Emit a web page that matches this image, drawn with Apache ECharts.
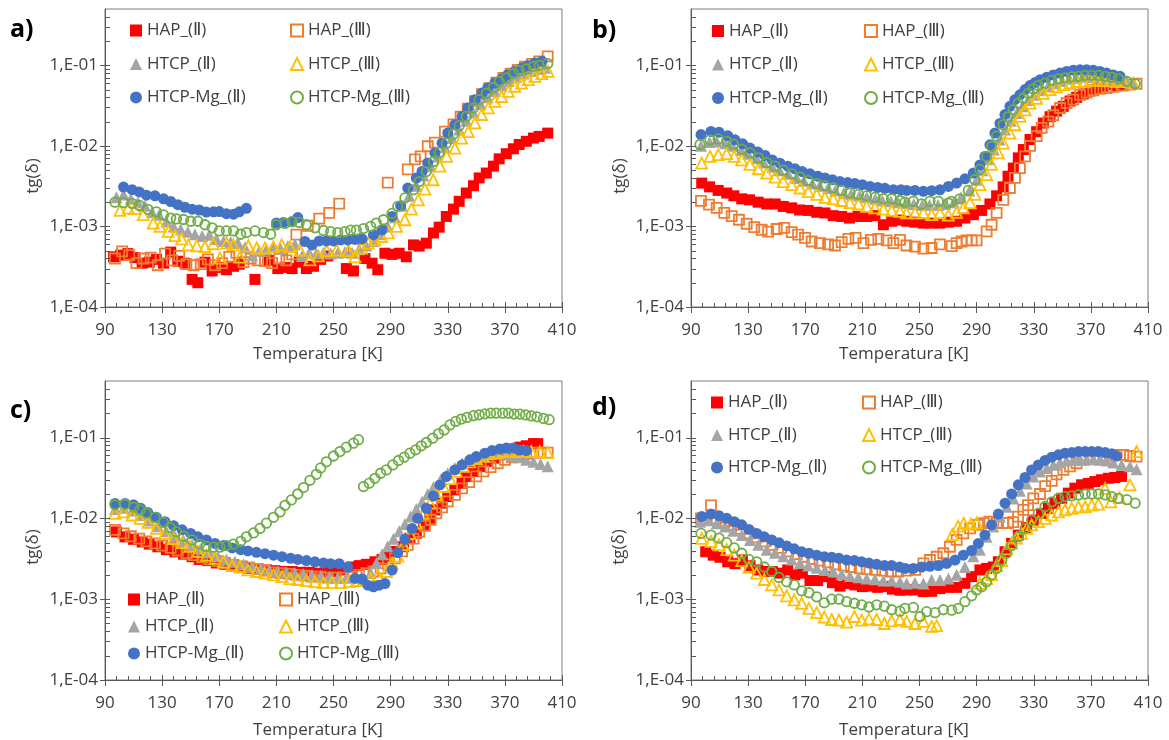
<!DOCTYPE html>
<html>
<head>
<meta charset="utf-8">
<script src="https://cdn.jsdelivr.net/npm/echarts@6/dist/echarts.min.js"></script>
<style>
  html, body { margin: 0; padding: 0; background: #fff; }
  #chart { width: 1169px; height: 740px; }
</style>
</head>
<body>
<div id="chart"></div>
<script>
// Loss tangent tg(δ) versus temperature for four sample sets, panels a) – d)
// Each series is a list of [temperature K, tg(δ)] points.

const seriesNames = ['HAP_(Ⅱ)', 'HAP_(Ⅲ)', 'HTCP_(Ⅱ)', 'HTCP_(Ⅲ)', 'HTCP-Mg_(Ⅱ)', 'HTCP-Mg_(Ⅲ)'];
const panelLabels = ['a)', 'b)', 'c)', 'd)'];
const xTickValues = [90, 130, 170, 210, 250, 290, 330, 370, 410];
const yMajorTicks = [1e-4, 1e-3, 1e-2, 1e-1];
const yMinorTicks = [2e-4, 3e-4, 4e-4, 5e-4, 6e-4, 7e-4, 8e-4, 9e-4,
                     2e-3, 3e-3, 4e-3, 5e-3, 6e-3, 7e-3, 8e-3, 9e-3,
                     2e-2, 3e-2, 4e-2, 5e-2, 6e-2, 7e-2, 8e-2, 9e-2,
                     0.2, 0.3, 0.4];

// ---------- panel a ----------
const a_HAP2 = [[96,4.2e-4],[101,4.4e-4],[106,4.6e-4],[111,4.1e-4],[116,3.5e-4],[121,3.6e-4],[126,3.9e-4],[131,3.5e-4],[136,4.8e-4],[141,3.7e-4],[146,3.5e-4],[151,2.2e-4],[155,2.0e-4],[160,3.6e-4],[165,2.8e-4],[170,3.1e-4],[175,2.9e-4],[180,3.2e-4],[184,3.4e-4],[195,2.2e-4],[205,3.8e-4],[211,3.0e-4],[216,3.1e-4],[221,3.0e-4],[226,3.6e-4],[231,3.0e-4],[236,3.2e-4],[241,3.9e-4],[246,4.3e-4],[259,3.0e-4],[264,2.8e-4],[272,4.0e-4],[277,3.5e-4],[281,2.9e-4],[286,4.65e-4],[291,4.5e-4],[296,4.65e-4],[301,4.2e-4],[306,5.9e-4],[310,5.7e-4],[315,6.2e-4],[320,8.3e-4],[324,9.8e-4],[329,1.33e-3],[334,1.64e-3],[338,2.05e-3],[343,2.6e-3],[348,3.2e-3],[352,4.0e-3],[357,4.6e-3],[362,5.6e-3],[366,6.9e-3],[371,8.0e-3],[376,9.2e-3],[380,1.04e-2],[385,1.14e-2],[390,1.25e-2],[394,1.31e-2],[400,1.44e-2]];
const a_HAP3 = [[97,4.0e-4],[102,4.9e-4],[107,4.4e-4],[112,3.5e-4],[117,4.0e-4],[122,4.1e-4],[127,3.3e-4],[132,4.6e-4],[137,3.8e-4],[142,4.3e-4],[147,3.4e-4],[152,3.3e-4],[157,3.4e-4],[162,3.9e-4],[167,3.3e-4],[172,3.5e-4],[177,4.2e-4],[182,4.7e-4],[187,3.6e-4],[192,4.0e-4],[197,3.8e-4],[202,3.7e-4],[207,3.5e-4],[212,4.0e-4],[217,3.8e-4],[221,4.5e-4],[224,7.9e-4],[232,1.02e-3],[240,1.25e-3],[247,1.47e-3],[254,1.92e-3],[264,5.4e-4],[288,3.5e-3],[302,5.1e-3],[307,6.8e-3],[311,7.4e-3],[316,9.9e-3],[321,1.1e-2],[328,1.5e-2],[334,1.85e-2],[339,2.3e-2],[344,2.9e-2],[349,3.6e-2],[354,4.4e-2],[359,5.2e-2],[364,6.1e-2],[369,7.0e-2],[374,7.9e-2],[379,8.8e-2],[384,9.6e-2],[389,0.104],[394,0.112],[400,0.129]];
const a_HTCP2 = [[98,2.3e-3],[103,2.5e-3],[108,2.2e-3],[113,2.0e-3],[118,1.8e-3],[123,1.5e-3],[128,1.4e-3],[133,1.15e-3],[138,1.0e-3],[143,9.2e-4],[148,8.6e-4],[153,8.0e-4],[158,7.6e-4],[163,7.9e-4],[168,7.0e-4],[173,6.6e-4],[178,6.4e-4],[183,6.3e-4],[188,5.5e-4],[193,4.4e-4],[198,5.0e-4],[203,5.2e-4],[208,5.6e-4],[213,5.3e-4],[218,5.7e-4],[223,6.0e-4],[228,4.3e-4],[233,4.7e-4],[238,4.6e-4],[243,4.7e-4],[248,4.6e-4],[253,4.7e-4],[258,4.8e-4],[263,4.7e-4],[268,5.2e-4],[273,5.8e-4],[278,6.6e-4],[283,8.0e-4],[288,1.0e-3],[293,1.3e-3],[298,1.8e-3],[303,2.4e-3],[308,3.2e-3],[313,4.3e-3],[318,5.6e-3],[323,7.4e-3],[328,9.6e-3],[333,1.25e-2],[338,1.6e-2],[343,2.05e-2],[348,2.6e-2],[353,3.3e-2],[358,4.0e-2],[363,4.8e-2],[368,5.6e-2],[373,6.4e-2],[378,7.2e-2],[383,7.9e-2],[388,8.5e-2],[393,9.0e-2],[398,9.3e-2]];
const a_HTCP3 = [[100.5,1.58e-3],[106.3,1.69e-3],[111,1.66e-3],[116.8,1.4e-3],[123.8,1.1e-3],[128.5,1.0e-3],[134.3,8.7e-4],[139,7.7e-4],[143.7,7.0e-4],[148.3,5.9e-4],[154.2,5.75e-4],[160,5.6e-4],[165.8,6.1e-4],[170.5,4.05e-4],[175.2,6.2e-4],[179.8,5.9e-4],[184.5,4.15e-4],[190.4,5.75e-4],[196.2,5.4e-4],[202,5.4e-4],[207.9,5.6e-4],[213.7,5.9e-4],[219.5,5.6e-4],[226.5,5.1e-4],[233.5,3.85e-4],[239.4,4.3e-4],[245.2,5.0e-4],[252.2,5.1e-4],[260.4,5.0e-4],[265,4.2e-4],[269.7,5.4e-4],[274.3,6.2e-4],[279,6.8e-4],[283.7,7.5e-4],[288.4,8.3e-4],[294.2,1.0e-3],[300,1.21e-3],[304.6,1.64e-3],[309.4,2.14e-3],[314,2.9e-3],[319.8,3.8e-3],[324.5,5.6e-3],[329.2,7.4e-3],[335,9.4e-3],[339.7,1.25e-2],[344.4,1.5e-2],[349,1.93e-2],[353.7,2.45e-2],[358.4,2.96e-2],[363,3.57e-2],[367.7,4.1e-2],[372.4,4.76e-2],[377,5.5e-2],[381.7,6.0e-2],[386.4,6.63e-2],[391,7.3e-2],[395.8,7.9e-2],[400.3,8.4e-2]];
const a_Mg2 = [[103,3.08e-3],[109,2.86e-3],[114,2.68e-3],[119,2.44e-3],[125,2.4e-3],[131,2.2e-3],[136,2.04e-3],[141,1.86e-3],[146,1.73e-3],[151,1.64e-3],[156,1.6e-3],[161,1.51e-3],[166,1.52e-3],[170,1.53e-3],[175,1.44e-3],[180,1.42e-3],[184,1.52e-3],[189,1.68e-3],[210,1.1e-3],[215,1.12e-3],[221,1.14e-3],[225,1.29e-3],[230,6.5e-4],[235,5.9e-4],[240,6.6e-4],[245,6.6e-4],[250,6.6e-4],[255,6.8e-4],[260,6.8e-4],[265,6.9e-4],[270,7.0e-4],[278,7.9e-4],[284,9.1e-4],[291,1.33e-3],[297,1.81e-3],[302,2.99e-3],[308,3.98e-3],[312,4.82e-3],[316,6.12e-3],[321,8.15e-3],[326,1.08e-2],[330,1.44e-2],[335,1.83e-2],[340,2.32e-2],[344,2.95e-2],[349,3.75e-2],[354,4.53e-2],[358,5.23e-2],[363,6.03e-2],[368,6.83e-2],[372,7.65e-2],[377,8.42e-2],[382,9.27e-2],[386,9.9e-2],[391,0.107],[396,0.112]];
const a_Mg3 = [[97,2.0e-3],[103,1.97e-3],[109,1.93e-3],[114,1.82e-3],[120,1.63e-3],[126,1.52e-3],[131,1.39e-3],[136,1.27e-3],[140,1.24e-3],[145,1.22e-3],[150,1.16e-3],[155,1.16e-3],[160,1.05e-3],[165,9.6e-4],[170,8.8e-4],[175,8.8e-4],[180,8.8e-4],[185,8.0e-4],[189,8.4e-4],[195,8.8e-4],[201,8.4e-4],[206,8.0e-4],[210,1.05e-3],[216,1.09e-3],[221,1.15e-3],[226,1.12e-3],[231,1.05e-3],[237,9.6e-4],[243,8.9e-4],[248,8.6e-4],[253,8.4e-4],[258,8.6e-4],[262,9.0e-4],[266,9.0e-4],[271,9.4e-4],[276,1.0e-3],[280,1.1e-3],[285,1.21e-3],[291,1.45e-3],[295,1.77e-3],[300,2.26e-3],[306,2.85e-3],[310,3.6e-3],[315,4.8e-3],[320,6.4e-3],[324,8.3e-3],[329,1.08e-2],[334,1.4e-2],[338,1.78e-2],[343,2.32e-2],[348,2.95e-2],[352,3.75e-2],[357,4.5e-2],[362,5.3e-2],[366,6.3e-2],[371,7.0e-2],[376,7.9e-2],[380,8.6e-2],[385,9.0e-2],[390,9.7e-2],[394,0.1],[400,0.105]];

// ---------- panel b ----------
const b_HAP2 = [[97.5,3.45e-3],[103,3.1e-3],[109,2.8e-3],[115,2.6e-3],[120,2.4e-3],[125.5,2.2e-3],[131,2.14e-3],[137,2.0e-3],[143,1.9e-3],[149,1.9e-3],[154.6,1.77e-3],[160.5,1.7e-3],[166,1.6e-3],[172,1.58e-3],[178,1.5e-3],[183.8,1.47e-3],[189.6,1.36e-3],[195.5,1.33e-3],[201,1.27e-3],[207,1.33e-3],[213,1.33e-3],[218.8,1.36e-3],[224.7,1.05e-3],[230.5,1.16e-3],[236,1.2e-3],[241,1.16e-3],[246.8,1.13e-3],[252.7,1.1e-3],[258.5,1.1e-3],[264.3,1.1e-3],[270.2,1.13e-3],[276,1.16e-3],[281.8,1.27e-3],[287.7,1.4e-3],[293.5,1.58e-3],[299.3,1.9e-3],[304,2.4e-3],[308.6,3.1e-3],[312,4.2e-3],[315.7,5.3e-3],[319.2,7.1e-3],[322.7,9.0e-3],[327.4,1.2e-2],[332,1.5e-2],[336.7,1.92e-2],[341.4,2.3e-2],[346,2.7e-2],[350.7,3.1e-2],[355.4,3.6e-2],[360,4.0e-2],[364.7,4.4e-2],[369.4,4.8e-2],[374,5.2e-2],[378.7,5.5e-2],[383.4,5.75e-2],[388,5.6e-2],[392.7,5.6e-2]];
const b_HAP3 = [[97,2.08e-3],[102.6,1.87e-3],[108,1.7e-3],[113.3,1.47e-3],[118.5,1.34e-3],[123.6,1.21e-3],[129,1.08e-3],[134.3,9.8e-4],[139.5,9.1e-4],[144,8.6e-4],[150,9.3e-4],[155.3,9.6e-4],[160.5,8.5e-4],[165,7.9e-4],[169.8,7.2e-4],[174.5,6.5e-4],[180.3,6.2e-4],[186,6.0e-4],[190.8,5.8e-4],[195.5,6.4e-4],[200.2,7.0e-4],[205.3,7.2e-4],[210.7,6.2e-4],[216,6.8e-4],[221.2,7.0e-4],[227,6.7e-4],[231.7,6.2e-4],[236.3,6.8e-4],[240.9,5.8e-4],[246.8,5.6e-4],[252.7,5.3e-4],[258.5,5.4e-4],[264.3,6.0e-4],[272.5,5.7e-4],[276,6.2e-4],[279.5,6.5e-4],[283,6.7e-4],[286.5,6.7e-4],[290,6.7e-4],[297,8.7e-4],[300.5,1.05e-3],[304,1.47e-3],[308.7,2.14e-3],[313.3,3.0e-3],[316.8,4.0e-3],[320.3,5.3e-3],[323.9,7.4e-3],[327.4,1.0e-2],[332,1.32e-2],[335.5,1.67e-2],[340.2,2.0e-2],[343.7,2.4e-2],[348.4,2.95e-2],[353,3.4e-2],[357.7,3.75e-2],[362.4,4.3e-2],[367,4.6e-2],[371.7,4.9e-2],[376.4,5.1e-2],[381,5.2e-2],[385.7,5.4e-2],[391.5,5.6e-2],[397.4,5.75e-2],[402,5.9e-2]];
const b_HTCP2 = [[97,1.0e-2],[103,1.12e-2],[108,1.13e-2],[114,1.08e-2],[119,1.0e-2],[125,8.9e-3],[130,8.0e-3],[136,7.0e-3],[141,6.2e-3],[147,5.5e-3],[152,5.0e-3],[158,4.5e-3],[164,4.0e-3],[169,3.7e-3],[175,3.4e-3],[180,3.2e-3],[186,3.0e-3],[191,2.8e-3],[197,2.6e-3],[202,2.5e-3],[208,2.4e-3],[213,2.3e-3],[219,2.2e-3],[224,2.1e-3],[230,2.05e-3],[235,2.0e-3],[241,1.95e-3],[246,1.9e-3],[252,1.85e-3],[257,1.85e-3],[263,1.85e-3],[268,1.9e-3],[274,2.0e-3],[279,2.3e-3],[285,2.8e-3],[290,3.8e-3],[294,5.0e-3],[298,6.8e-3],[302,9.0e-3],[306,1.2e-2],[310,1.6e-2],[314,2.05e-2],[318,2.55e-2],[322,3.1e-2],[326,3.7e-2],[330,4.3e-2],[335,4.9e-2],[340,5.5e-2],[345,6.0e-2],[350,6.4e-2],[355,6.8e-2],[360,7.0e-2],[365,7.2e-2],[370,7.2e-2],[375,7.1e-2],[380,7.0e-2],[385,6.8e-2],[390,6.6e-2],[395,6.3e-2],[400,6.0e-2]];
const b_HTCP3 = [[97.5,6.1e-3],[103.3,7.4e-3],[109.1,7.8e-3],[115,8.0e-3],[120.3,7.4e-3],[125.5,6.7e-3],[131.3,5.9e-3],[137.1,5.2e-3],[143,4.6e-3],[148.8,4.1e-3],[154.6,3.6e-3],[160.5,3.3e-3],[166.3,3.0e-3],[172.1,2.7e-3],[178,2.5e-3],[183.8,2.3e-3],[189.6,2.2e-3],[195.5,2.1e-3],[201.3,1.97e-3],[207.2,1.9e-3],[213,1.77e-3],[218.8,1.7e-3],[224.7,1.64e-3],[230.5,1.58e-3],[236.3,1.54e-3],[240.9,1.47e-3],[246.8,1.47e-3],[252.7,1.47e-3],[258.5,1.4e-3],[264.3,1.47e-3],[270.2,1.38e-3],[276,1.5e-3],[280.7,1.7e-3],[285.4,1.97e-3],[288.8,2.5e-3],[292.3,3.3e-3],[297,4.4e-3],[300.5,5.9e-3],[305.2,8.2e-3],[308.7,1.08e-2],[313.3,1.44e-2],[316.8,1.83e-2],[320.3,2.32e-2],[323.9,2.8e-2],[327.4,3.4e-2],[332,3.9e-2],[336.7,4.5e-2],[341.4,5.0e-2],[346,5.4e-2],[350.7,5.75e-2],[355.4,6.0e-2],[360,6.3e-2],[364.7,6.3e-2],[369.4,6.5e-2],[374,6.5e-2],[378.7,6.5e-2],[383.4,6.4e-2],[388,6.3e-2],[392.7,6.3e-2],[399.7,6.0e-2]];
const b_Mg2 = [[97,1.38e-2],[104,1.51e-2],[109.6,1.48e-2],[115.7,1.34e-2],[120.8,1.19e-2],[126.2,1.06e-2],[131.3,9.4e-3],[136.7,8.4e-3],[141.8,7.6e-3],[146.9,6.7e-3],[152.3,6.1e-3],[157.7,5.6e-3],[162.8,5.2e-3],[167.9,4.8e-3],[173.3,4.5e-3],[178.7,4.2e-3],[183.8,4.0e-3],[189,3.8e-3],[194.3,3.6e-3],[199.7,3.5e-3],[204.8,3.4e-3],[210,3.3e-3],[215.3,3.14e-3],[220.7,3.05e-3],[225.8,2.97e-3],[231.7,2.86e-3],[237,2.85e-3],[241,2.8e-3],[246.8,2.8e-3],[252.7,2.73e-3],[258.5,2.78e-3],[264.3,2.85e-3],[270.2,3.14e-3],[276,3.45e-3],[281.8,3.9e-3],[287.7,4.6e-3],[292.3,5.8e-3],[295.8,7.4e-3],[299.3,1.03e-2],[302.8,1.44e-2],[306.3,1.9e-2],[309.8,2.45e-2],[313.3,3.1e-2],[316.8,3.75e-2],[320.3,4.3e-2],[323.9,5.0e-2],[327.4,5.6e-2],[330.9,6.1e-2],[334.4,6.6e-2],[339,7.1e-2],[343.7,7.6e-2],[348.4,8.0e-2],[353,8.4e-2],[357.7,8.7e-2],[362.4,8.8e-2],[367,8.8e-2],[371.7,8.7e-2],[376.4,8.4e-2],[381,8.0e-2],[385.7,7.6e-2],[390.4,7.3e-2]];
const b_Mg3 = [[96.3,1.04e-2],[103.3,1.19e-2],[109,1.22e-2],[115,1.14e-2],[119.6,1.05e-2],[125.5,9.1e-3],[131.3,8.2e-3],[137.1,7.1e-3],[143,6.2e-3],[148.8,5.6e-3],[154.6,5.0e-3],[160.5,4.5e-3],[166.3,4.1e-3],[172.1,3.7e-3],[178,3.4e-3],[183.8,3.2e-3],[189.6,3.0e-3],[195.5,2.8e-3],[201.3,2.6e-3],[207.2,2.5e-3],[213,2.4e-3],[218.8,2.3e-3],[224.7,2.2e-3],[230.5,2.2e-3],[236.3,2.1e-3],[239.8,2.0e-3],[245.7,2.05e-3],[251.5,1.9e-3],[257.3,2.05e-3],[263.2,2.05e-3],[270.2,1.95e-3],[272.5,2.05e-3],[278.3,2.2e-3],[284.2,2.8e-3],[288.8,3.8e-3],[292.3,5.1e-3],[297,7.4e-3],[300.5,9.9e-3],[304,1.32e-2],[308.6,1.83e-2],[312.1,2.3e-2],[315.7,2.8e-2],[319.2,3.4e-2],[322.7,3.9e-2],[326.2,4.5e-2],[329.7,5.1e-2],[333.2,5.6e-2],[337.9,6.0e-2],[342.6,6.5e-2],[347.3,6.8e-2],[351.9,7.0e-2],[356.6,7.2e-2],[361.3,7.3e-2],[366,7.5e-2],[370.6,7.5e-2],[375.3,7.5e-2],[380,7.3e-2],[384.6,7.1e-2],[389.3,6.8e-2],[395.2,6.3e-2],[401,5.9e-2]];

// ---------- panel c ----------
const c_HAP2 = [[98,6.8e-3],[104,5.9e-3],[110,5.5e-3],[116,5.1e-3],[121,4.8e-3],[127,4.45e-3],[133,4.1e-3],[139,3.85e-3],[145,3.6e-3],[151,3.35e-3],[156,3.1e-3],[162,3.0e-3],[168,2.8e-3],[174,2.7e-3],[180,2.6e-3],[186,2.5e-3],[191,2.4e-3],[197,2.35e-3],[203,2.3e-3],[209,2.25e-3],[215,2.2e-3],[221,2.2e-3],[227,2.15e-3],[233,2.15e-3],[239,2.1e-3],[245,2.15e-3],[251,2.2e-3],[257,2.3e-3],[263,2.5e-3],[268,2.6e-3],[273,2.7e-3],[279,2.9e-3],[284,3.1e-3],[289,3.4e-3],[294,3.9e-3],[299,4.46e-3],[303.5,5.66e-3],[308,6.53e-3],[313,8.28e-3],[317.5,1.0e-2],[321,1.27e-2],[326,1.54e-2],[330,1.86e-2],[335,2.25e-2],[340,2.72e-2],[343,3.29e-2],[348,3.8e-2],[352.5,4.38e-2],[357,5.05e-2],[362,5.55e-2],[366.5,6.1e-2],[371,6.7e-2],[376,7.2e-2],[380.5,7.6e-2],[385,7.9e-2],[390,8.4e-2],[393,8.4e-2]];
const c_HAP3 = [[97,7.2e-3],[103,6.5e-3],[108,6.0e-3],[114,5.6e-3],[119,5.2e-3],[125,4.9e-3],[130,4.6e-3],[136,4.3e-3],[141,4.0e-3],[147,3.7e-3],[152,3.5e-3],[158,3.3e-3],[163,3.1e-3],[169,2.95e-3],[174,2.8e-3],[180,2.65e-3],[186,2.55e-3],[191,2.45e-3],[197,2.35e-3],[202,2.25e-3],[208,2.15e-3],[213,2.1e-3],[219,2.05e-3],[224,2.0e-3],[230,1.95e-3],[235,1.9e-3],[241,1.9e-3],[246,1.85e-3],[252,1.85e-3],[257,1.85e-3],[263,1.9e-3],[268,2.0e-3],[273,2.1e-3],[278,2.2e-3],[283,2.4e-3],[288,2.7e-3],[293,3.2e-3],[298,3.9e-3],[302,4.7e-3],[306,5.6e-3],[310,6.8e-3],[314,8.1e-3],[318,9.6e-3],[322,1.15e-2],[326,1.37e-2],[330,1.62e-2],[335,1.95e-2],[340,2.35e-2],[345,2.8e-2],[350,3.3e-2],[355,3.8e-2],[360,4.3e-2],[365,4.8e-2],[370,5.3e-2],[375,5.7e-2],[380,6.0e-2],[385,6.3e-2],[390,6.5e-2],[395,6.5e-2],[400,6.5e-2]];
const c_HTCP2 = [[97,1.3e-2],[103,1.35e-2],[109,1.25e-2],[115,1.1e-2],[121,9.4e-3],[127,8.0e-3],[133,6.9e-3],[139,6.0e-3],[145,5.3e-3],[151,4.7e-3],[157,4.2e-3],[163,3.8e-3],[169,3.4e-3],[175,3.1e-3],[181,2.9e-3],[187,2.7e-3],[193,2.55e-3],[199,2.4e-3],[205,2.3e-3],[211,2.2e-3],[217,2.15e-3],[223,2.1e-3],[229,2.05e-3],[235,2.0e-3],[241,1.95e-3],[247,1.9e-3],[253,1.85e-3],[259,1.85e-3],[265,1.85e-3],[271,1.9e-3],[276,2.1e-3],[280,2.8e-3],[284,3.6e-3],[288,4.5e-3],[292,5.6e-3],[296,6.9e-3],[300,8.5e-3],[304,1.05e-2],[308,1.3e-2],[312,1.6e-2],[316,2.0e-2],[320,2.45e-2],[325,3.0e-2],[330,3.6e-2],[335,4.2e-2],[340,4.8e-2],[345,5.3e-2],[350,5.7e-2],[355,6.0e-2],[360,6.2e-2],[365,6.3e-2],[370,6.2e-2],[375,6.0e-2],[380,5.7e-2],[385,5.3e-2],[390,5.0e-2],[395,4.7e-2],[400,4.4e-2]];
const c_HTCP3 = [[97,1.15e-2],[103,1.2e-2],[109,1.1e-2],[114.5,1.0e-2],[120,8.9e-3],[126,7.5e-3],[132,6.5e-3],[138,5.6e-3],[144,5.0e-3],[149.5,4.5e-3],[155,3.9e-3],[161,3.5e-3],[167,3.2e-3],[173,2.9e-3],[179,2.6e-3],[184.5,2.5e-3],[190,2.3e-3],[196,2.2e-3],[202,2.1e-3],[208,2.0e-3],[214,1.9e-3],[219.5,1.8e-3],[225,1.75e-3],[231,1.7e-3],[237,1.65e-3],[243,1.6e-3],[249,1.6e-3],[255,1.6e-3],[261,1.65e-3],[266,1.7e-3],[271,1.75e-3],[276,1.8e-3],[281,1.95e-3],[287,2.2e-3],[291,2.8e-3],[295,3.4e-3],[299,4.7e-3],[303.5,6.5e-3],[308,8.7e-3],[313,1.15e-2],[317.5,1.54e-2],[322,1.95e-2],[327,2.47e-2],[331.5,3.1e-2],[336,3.8e-2],[341,4.4e-2],[345.5,5.0e-2],[350,5.5e-2],[355,5.9e-2],[359.5,6.3e-2],[364,6.5e-2],[369,6.7e-2],[373.5,6.7e-2],[378,6.7e-2],[383,6.7e-2],[388.5,6.7e-2],[394.5,6.7e-2],[400,6.5e-2]];
const c_Mg2 = [[97,1.53e-2],[104,1.53e-2],[110,1.47e-2],[115,1.33e-2],[120,1.18e-2],[126,1.03e-2],[132,9.1e-3],[138,8.1e-3],[144,7.2e-3],[150,6.5e-3],[155,5.9e-3],[161,5.4e-3],[167,4.9e-3],[173,4.6e-3],[179,4.3e-3],[185,4.1e-3],[190,3.95e-3],[196,3.8e-3],[202,3.65e-3],[208,3.5e-3],[214,3.35e-3],[220,3.2e-3],[225,3.1e-3],[231,3.0e-3],[237,2.9e-3],[243,2.8e-3],[248,2.75e-3],[254,2.75e-3],[260,2.5e-3],[265,1.81e-3],[270,1.77e-3],[274,1.49e-3],[278,1.42e-3],[282,1.49e-3],[286,1.56e-3],[291,2.29e-3],[295,3.76e-3],[300,5.5e-3],[305,7.5e-3],[309,1.0e-2],[315,1.33e-2],[320,1.89e-2],[324.5,2.59e-2],[329,3.29e-2],[335,3.97e-2],[340,4.58e-2],[345.5,5.3e-2],[350,5.8e-2],[356,6.4e-2],[361,6.9e-2],[366.5,7.2e-2],[371,7.4e-2],[376,7.4e-2],[380.5,7.0e-2],[385,6.9e-2]];
const c_Mg3 = [[97,1.47e-2],[104,1.49e-2],[110,1.38e-2],[114.5,1.27e-2],[119,1.16e-2],[125,1.03e-2],[131,8.9e-3],[135.5,7.7e-3],[140,6.8e-3],[145,6.0e-3],[151,5.4e-3],[156.5,4.8e-3],[161,4.5e-3],[166,4.4e-3],[170.5,4.4e-3],[175,4.6e-3],[180,4.8e-3],[185,5.2e-3],[189,5.9e-3],[194,6.6e-3],[198.5,7.5e-3],[203,8.7e-3],[208,1.03e-2],[212.5,1.2e-2],[216,1.45e-2],[220.5,1.69e-2],[225,2.0e-2],[229,2.4e-2],[233.5,2.95e-2],[238,3.5e-2],[241,4.2e-2],[245,5.0e-2],[250,5.9e-2],[254.5,6.7e-2],[259,7.6e-2],[264,8.5e-2],[267.5,9.4e-2],[271,2.47e-2],[275,2.72e-2],[279,3.13e-2],[283,3.61e-2],[287,3.97e-2],[291.5,4.58e-2],[295.5,5.19e-2],[299.5,5.71e-2],[303.5,6.4e-2],[307.5,7.03e-2],[311.5,7.88e-2],[315,8.67e-2],[319.5,9.8e-2],[323.5,0.111],[327.5,0.124],[331.5,0.143],[335.5,0.158],[339.5,0.169],[343.5,0.177],[348,0.186],[352,0.191],[356,0.196],[360,0.2],[364,0.2],[368.5,0.2],[372.5,0.2],[376.5,0.195],[380.5,0.195],[384.5,0.19],[388.5,0.185],[392.5,0.18],[397,0.172],[401,0.166]];

// ---------- panel d ----------
const d_HAP2 = [[100.3,3.86e-3],[105.6,3.5e-3],[110.3,3.3e-3],[115.7,2.9e-3],[120.8,2.75e-3],[126,3.05e-3],[131.3,2.6e-3],[136.7,2.3e-3],[141.8,2.2e-3],[147,2.2e-3],[152.3,2.1e-3],[157.7,2.3e-3],[162.8,2.0e-3],[168,2.1e-3],[173.3,1.7e-3],[178.7,1.7e-3],[183.8,1.9e-3],[189,1.6e-3],[194.3,1.45e-3],[199.7,1.56e-3],[204.8,1.5e-3],[210,1.43e-3],[215.3,1.45e-3],[220.7,1.4e-3],[225.8,1.43e-3],[231,1.33e-3],[236.3,1.29e-3],[241,1.3e-3],[246.8,1.3e-3],[252.7,1.24e-3],[258.5,1.25e-3],[264.3,1.35e-3],[270.2,1.4e-3],[276,1.4e-3],[281.8,1.57e-3],[286.5,1.9e-3],[292.3,2.3e-3],[297,2.4e-3],[301.7,2.5e-3],[305.2,2.9e-3],[309.9,3.86e-3],[314.5,4.9e-3],[319.2,6.2e-3],[325,7.7e-3],[329.7,9.5e-3],[335.5,1.15e-2],[340.2,1.33e-2],[344.8,1.53e-2],[349.5,1.77e-2],[354.2,2.05e-2],[358.8,2.36e-2],[363.5,2.6e-2],[368.2,2.7e-2],[372.8,2.85e-2],[377.5,3.0e-2],[382.2,3.13e-2],[386.8,3.2e-2],[391.5,3.3e-2]];
const d_HAP3 = [[97,1.0e-2],[104,1.45e-2],[108,1.0e-2],[114,9.2e-3],[120,8.3e-3],[125,7.4e-3],[131,6.5e-3],[136,5.8e-3],[142,5.2e-3],[147,4.7e-3],[153,4.3e-3],[158,3.9e-3],[164,3.6e-3],[169,3.35e-3],[175,3.15e-3],[180,3.0e-3],[186,2.85e-3],[191,2.7e-3],[197,2.6e-3],[202,2.5e-3],[208,2.4e-3],[213,2.35e-3],[219,2.3e-3],[224,2.25e-3],[230,2.2e-3],[235,2.2e-3],[241,2.25e-3],[247,2.3e-3],[252.7,2.77e-3],[257.3,3.05e-3],[262,3.35e-3],[266.7,3.7e-3],[271.3,4.45e-3],[276,5.4e-3],[280.7,6.5e-3],[285.4,7.5e-3],[291,8.3e-3],[295,8.7e-3],[299,9.1e-3],[304,8.8e-3],[308.7,8.7e-3],[312,8.7e-3],[315.6,9.0e-3],[319,1.05e-2],[322.7,1.27e-2],[326,1.46e-2],[329.7,1.77e-2],[334.4,2.0e-2],[338,2.5e-2],[342.6,2.9e-2],[346,3.5e-2],[350.7,3.97e-2],[355.4,4.4e-2],[360,4.8e-2],[364.7,5.3e-2],[369.4,5.55e-2],[374,5.8e-2],[378.7,6.0e-2],[383.4,6.0e-2],[388,6.1e-2],[392.7,6.1e-2],[397.4,5.9e-2],[402,5.8e-2]];
const d_HTCP2 = [[96.3,9.1e-3],[102,9.5e-3],[108,8.7e-3],[113.8,7.9e-3],[119.6,7.0e-3],[125.5,6.2e-3],[131.3,5.4e-3],[137.1,4.7e-3],[143,4.1e-3],[148.8,3.75e-3],[154.6,3.4e-3],[160.5,3.1e-3],[166.3,2.8e-3],[172.1,2.6e-3],[178,2.45e-3],[183.8,2.3e-3],[189.6,2.2e-3],[195.5,2.05e-3],[201.3,1.94e-3],[207.2,1.87e-3],[213,1.8e-3],[218.8,1.76e-3],[224.7,1.7e-3],[230.5,1.7e-3],[236.3,1.64e-3],[241,1.56e-3],[246.8,1.6e-3],[252.7,1.56e-3],[258.5,1.73e-3],[264.3,1.73e-3],[270.2,1.8e-3],[276,2.0e-3],[281.8,2.5e-3],[287.7,3.4e-3],[292.3,4.1e-3],[297,5.9e-3],[301.7,7.9e-3],[306.3,1.05e-2],[311,1.39e-2],[315.7,1.76e-2],[320.3,2.2e-2],[325,2.7e-2],[329.7,3.3e-2],[334.3,3.8e-2],[339,4.2e-2],[343.7,4.6e-2],[348.4,4.9e-2],[353,5.2e-2],[357.7,5.3e-2],[362.4,5.4e-2],[367,5.4e-2],[371.7,5.4e-2],[376.4,5.3e-2],[381,5.2e-2],[385.7,4.9e-2],[391.5,4.6e-2],[397.4,4.4e-2],[402,4.05e-2]];
const d_HTCP3 = [[97.5,5.66e-3],[104,5.2e-3],[109.6,4.7e-3],[115,4.1e-3],[120.3,3.5e-3],[125.5,3.0e-3],[130.6,2.5e-3],[136,2.1e-3],[141.3,1.75e-3],[146.5,1.5e-3],[151.6,1.3e-3],[157,1.1e-3],[162.3,9.8e-4],[167.5,8.9e-4],[172.6,7.7e-4],[178,6.8e-4],[183.3,6.0e-4],[188.5,5.6e-4],[193.6,5.5e-4],[199,5.2e-4],[204.4,6.1e-4],[209.5,5.5e-4],[214.6,5.7e-4],[220,5.6e-4],[225.4,5.0e-4],[230.5,5.4e-4],[236.3,5.6e-4],[241,5.3e-4],[246.8,5.0e-4],[252.7,5.3e-4],[258.5,4.6e-4],[262,4.7e-4],[273,6.3e-3],[277,8.0e-3],[281,8.7e-3],[286,8.5e-3],[290,8.8e-3],[292.3,1.57e-3],[297,1.8e-3],[300.5,2.0e-3],[304,2.6e-3],[307.6,3.0e-3],[311,4.2e-3],[314.5,4.9e-3],[318,5.7e-3],[321.5,6.5e-3],[325,7.5e-3],[328.5,8.3e-3],[333.2,9.1e-3],[337.9,1.0e-2],[342.6,1.1e-2],[347.3,1.2e-2],[351.9,1.27e-2],[356.6,1.33e-2],[361.3,1.39e-2],[366,1.39e-2],[370.6,1.46e-2],[375.3,1.5e-2],[380,2.35e-2],[384,1.6e-2],[390,1.8e-2],[397.4,2.6e-2],[402,6.7e-2]];
const d_Mg2 = [[97.5,1.05e-2],[104,1.13e-2],[109.6,1.08e-2],[115,1.0e-2],[120.3,9.1e-3],[125.5,8.3e-3],[130.6,7.3e-3],[136,6.5e-3],[141.3,5.9e-3],[146.5,5.4e-3],[151.6,5.0e-3],[157,4.55e-3],[162.3,4.2e-3],[167.5,3.85e-3],[172.6,3.7e-3],[178,3.5e-3],[183.3,3.35e-3],[188.5,3.3e-3],[193.6,3.2e-3],[199,3.05e-3],[204.4,3.0e-3],[209.5,2.9e-3],[214.6,2.8e-3],[220,2.7e-3],[225.4,2.6e-3],[230.5,2.6e-3],[236,2.5e-3],[240,2.4e-3],[245.7,2.4e-3],[251.5,2.5e-3],[257.3,2.55e-3],[263.2,2.6e-3],[269,2.77e-3],[274.9,3.05e-3],[280.7,3.5e-3],[286.5,4.0e-3],[291.2,4.9e-3],[295.8,6.2e-3],[300.5,8.3e-3],[305.2,1.13e-2],[309.9,1.54e-2],[314.5,2.0e-2],[319.2,2.6e-2],[323.9,3.2e-2],[328.5,3.97e-2],[333.2,4.58e-2],[337.9,5.2e-2],[342.6,5.7e-2],[347.3,6.1e-2],[351.9,6.4e-2],[356.6,6.5e-2],[361.3,6.7e-2],[366,6.7e-2],[370.6,6.7e-2],[375.3,6.7e-2],[380,6.5e-2],[384.6,6.3e-2],[388.1,5.9e-2]];
const d_Mg3 = [[97,6.5e-3],[104,6.2e-3],[109.6,5.7e-3],[115,5.0e-3],[120.3,4.3e-3],[125.5,3.7e-3],[130.6,3.1e-3],[136,2.9e-3],[141.3,2.5e-3],[146.5,2.2e-3],[151.6,1.86e-3],[157,1.64e-3],[162.3,1.5e-3],[167.5,1.27e-3],[172.6,1.2e-3],[178,1.07e-3],[183.3,9.0e-4],[188.5,1.0e-3],[193.6,1.0e-3],[199,9.3e-4],[204.4,8.9e-4],[209.5,8.5e-4],[214.6,8.0e-4],[220,8.5e-4],[225.4,8.2e-4],[230.5,7.4e-4],[236.3,7.1e-4],[239.8,7.7e-4],[245.7,7.9e-4],[250.4,6.1e-4],[255,7.0e-4],[260.9,6.8e-4],[266.7,7.4e-4],[272.6,7.3e-4],[277.2,7.7e-4],[281.8,9.3e-4],[286.5,1.1e-3],[290,1.3e-3],[293.5,1.42e-3],[297,1.64e-3],[300.5,2.0e-3],[304,2.4e-3],[307.6,3.06e-3],[311,3.7e-3],[314.5,4.6e-3],[319.2,5.9e-3],[323.9,7.5e-3],[328.5,9.5e-3],[333.2,1.15e-2],[337.9,1.4e-2],[342.6,1.6e-2],[347.3,1.77e-2],[351.9,1.86e-2],[356.6,1.9e-2],[361.3,1.95e-2],[366,2.0e-2],[370.6,2.0e-2],[375.3,2.0e-2],[380,1.95e-2],[384.6,1.86e-2],[389.3,1.77e-2],[395.2,1.7e-2],[401,1.54e-2]];

const panelData = [
  [a_HAP2, a_HAP3, a_HTCP2, a_HTCP3, a_Mg2, a_Mg3],
  [b_HAP2, b_HAP3, b_HTCP2, b_HTCP3, b_Mg2, b_Mg3],
  [c_HAP2, c_HAP3, c_HTCP2, c_HTCP3, c_Mg2, c_Mg3],
  [d_HAP2, d_HAP3, d_HTCP2, d_HTCP3, d_Mg2, d_Mg3]
];

// ---------- styling / layout ----------
const FONT = "'Open Sans', 'DejaVu Sans', sans-serif";
const TEXT_COLOR = '#404040';
const AXIS_COLOR = '#595959';

const markerStyles = [
  { symbol: 'rect',     symbolSize: 11,  itemStyle: { color: '#FF0000', opacity: 1 } },
  { symbol: 'rect',     symbolSize: 10,  itemStyle: { color: 'transparent', borderColor: '#ED7D31', borderWidth: 1.8, opacity: 1 } },
  { symbol: 'triangle', symbolSize: 12,  itemStyle: { color: '#A5A5A5', opacity: 1 } },
  { symbol: 'triangle', symbolSize: 11,  itemStyle: { color: 'transparent', borderColor: '#FFC000', borderWidth: 1.8, opacity: 1 } },
  { symbol: 'circle',   symbolSize: 11,  itemStyle: { color: '#4472C4', opacity: 1 } },
  { symbol: 'circle',   symbolSize: 9.5, itemStyle: { color: 'transparent', borderColor: '#70AD47', borderWidth: 1.8, opacity: 1 } }
];

// plot rectangles and legend/title placement for each panel
const panels = [
  { grid: { left: 105, top: 9,   width: 457, height: 298 }, label: [10, 30],   xTitle: [318, 354], yTitle: [33, 176],
    legend: { cols: [130, 290], top: 22, gap: 16.5 } },
  { grid: { left: 691, top: 9,   width: 457, height: 298 }, label: [592, 31],  xTitle: [904, 354], yTitle: [620, 176],
    legend: { cols: [712, 864], top: 22.5, gap: 16.5 } },
  { grid: { left: 105, top: 381, width: 457, height: 299 }, label: [10, 411],  xTitle: [318, 730], yTitle: [33, 547],
    legend: { cols: [128, 279], top: 591, gap: 10 } },
  { grid: { left: 691, top: 381, width: 457, height: 299 }, label: [592, 408], xTitle: [904, 730], yTitle: [619, 547],
    legend: { cols: [711, 862], top: 394, gap: 15.5 } }
];

function logLabel(v) {
  const e = Math.round(Math.log10(v));
  if (Math.abs(Math.log10(v) - e) > 1e-6) return '';
  return '1,E' + (e < 0 ? '-' : '+') + String(Math.abs(e)).padStart(2, '0');
}

const yTickData = yMajorTicks.map(v => [90, v, 1]).concat(yMinorTicks.map(v => [90, v, 0]));

function renderYTick(params, api) {
  const p = api.coord([api.value(0), api.value(1)]);
  const major = api.value(2) === 1;
  const y = Math.round(p[1]) + 0.5;
  return {
    type: 'line',
    shape: { x1: p[0] - (major ? 5 : 0), y1: y, x2: p[0] + 5, y2: y },
    style: { stroke: AXIS_COLOR, lineWidth: 1 }
  };
}

const grids = [], xAxes = [], yAxes = [], series = [], legends = [], graphics = [];

panels.forEach((pn, i) => {
  grids.push(Object.assign({ show: true, borderColor: '#7f7f7f', borderWidth: 1, backgroundColor: 'transparent' }, pn.grid));

  // main x axis: line, labels and the outer half of the major ticks
  xAxes.push({
    type: 'value', gridIndex: i, position: 'bottom', min: 90, max: 410, interval: 40,
    axisLine: { show: true, lineStyle: { color: AXIS_COLOR, width: 1 } },
    axisTick: { show: true, inside: false, length: 6, lineStyle: { color: AXIS_COLOR } },
    axisLabel: { show: true, margin: 15, color: TEXT_COLOR, fontSize: 17, fontFamily: FONT,
                 formatter: v => (xTickValues.indexOf(v) >= 0 ? String(v) : '') },
    splitLine: { show: false }
  });
  // companion x axis: inner half of the major ticks plus minor ticks
  xAxes.push({
    type: 'value', gridIndex: i, position: 'bottom', min: 90, max: 410, interval: 40,
    axisLine: { show: false },
    axisTick: { show: true, inside: true, length: 5, lineStyle: { color: AXIS_COLOR } },
    minorTick: { show: true, splitNumber: 5, length: 4, lineStyle: { color: AXIS_COLOR } },
    axisLabel: { show: false },
    splitLine: { show: false }
  });

  yAxes.push({
    type: 'log', logBase: 10, gridIndex: i, min: 1e-4, max: 0.5,
    axisLine: { show: true, lineStyle: { color: AXIS_COLOR, width: 1 } },
    axisTick: { show: false },
    axisLabel: { show: true, margin: 7, color: TEXT_COLOR, fontSize: 17, fontFamily: FONT, formatter: logLabel },
    splitLine: { show: false }
  });

  panelData[i].forEach((data, k) => {
    series.push(Object.assign({
      type: 'scatter', name: seriesNames[k], data: data,
      xAxisIndex: 2 * i, yAxisIndex: i, silent: true, animation: false
    }, markerStyles[k]));
  });

  series.push({
    type: 'custom', name: 'yticks', xAxisIndex: 2 * i, yAxisIndex: i,
    data: yTickData, renderItem: renderYTick, clip: false, silent: true, animation: false, z: 5
  });

  const lg = pn.legend;
  [[0, 2, 4], [1, 3, 5]].forEach((idx, c) => {
    legends.push({
      orient: 'vertical', left: lg.cols[c], top: lg.top, padding: 0,
      itemGap: lg.gap, itemWidth: 12, itemHeight: 12, selectedMode: false,
      textStyle: { color: TEXT_COLOR, fontSize: 17, fontFamily: FONT },
      data: idx.map(k => seriesNames[k])
    });
  });

  graphics.push({ type: 'text', x: pn.label[0], y: pn.label[1],
    style: { text: panelLabels[i], align: 'left', verticalAlign: 'middle', fill: '#000',
             fontSize: 25, fontWeight: 'bold', fontFamily: FONT } });
  graphics.push({ type: 'text', x: pn.xTitle[0], y: pn.xTitle[1],
    style: { text: 'Temperatura [K]', align: 'center', verticalAlign: 'middle', fill: TEXT_COLOR,
             fontSize: 17, fontFamily: FONT } });
  graphics.push({ type: 'text', x: pn.yTitle[0], y: pn.yTitle[1], rotation: Math.PI / 2,
    style: { text: 'tg(δ)', align: 'center', verticalAlign: 'middle', fill: TEXT_COLOR,
             fontSize: 17, fontFamily: FONT } });
});

const chart = echarts.init(document.getElementById('chart'), null, { renderer: 'canvas' });
chart.setOption({
  backgroundColor: '#ffffff',
  animation: false,
  grid: grids,
  xAxis: xAxes,
  yAxis: yAxes,
  legend: legends,
  series: series,
  graphic: graphics
});
</script>
</body>
</html>
